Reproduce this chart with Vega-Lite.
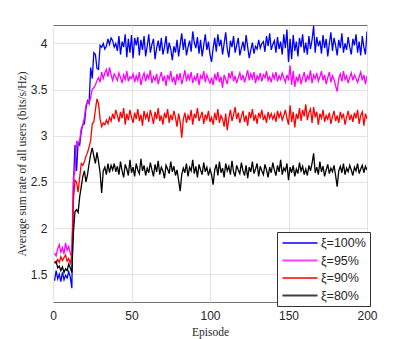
{
"$schema":"https://vega.github.io/schema/vega-lite/v6.json",
"width":314,"height":277,
"autosize":{"type":"none"},
"padding":{"left":53,"top":25,"right":40,"bottom":37},
"background":"white",
"data":{"values":[
{"e":1,"s":100,"v":1.43},{"e":2,"s":100,"v":1.54},{"e":3,"s":100,"v":1.45},{"e":4,"s":100,"v":1.50},{"e":5,"s":100,"v":1.42},{"e":6,"s":100,"v":1.52},{"e":7,"s":100,"v":1.44},{"e":8,"s":100,"v":1.49},{"e":9,"s":100,"v":1.46},{"e":10,"s":100,"v":1.53},
{"e":11,"s":100,"v":1.47},{"e":12,"s":100,"v":1.35},{"e":13,"s":100,"v":2.45},{"e":14,"s":100,"v":2.90},{"e":15,"s":100,"v":2.62},{"e":16,"s":100,"v":2.93},{"e":17,"s":100,"v":2.90},{"e":18,"s":100,"v":3.05},{"e":19,"s":100,"v":3.12},{"e":20,"s":100,"v":3.13},
{"e":21,"s":100,"v":3.30},{"e":22,"s":100,"v":3.38},{"e":23,"s":100,"v":3.35},{"e":24,"s":100,"v":3.74},{"e":25,"s":100,"v":3.62},{"e":26,"s":100,"v":3.90},{"e":27,"s":100,"v":3.88},{"e":28,"s":100,"v":3.73},{"e":29,"s":100,"v":3.72},{"e":30,"s":100,"v":3.98},
{"e":31,"s":100,"v":3.96},{"e":32,"s":100,"v":4.00},{"e":33,"s":100,"v":3.94},{"e":34,"s":100,"v":3.97},{"e":35,"s":100,"v":4.05},{"e":36,"s":100,"v":3.99},{"e":37,"s":100,"v":4.06},{"e":38,"s":100,"v":4.03},{"e":39,"s":100,"v":3.96},{"e":40,"s":100,"v":4.00},
{"e":41,"s":100,"v":3.92},{"e":42,"s":100,"v":4.08},{"e":43,"s":100,"v":3.88},{"e":44,"s":100,"v":4.02},{"e":45,"s":100,"v":3.96},{"e":46,"s":100,"v":4.10},{"e":47,"s":100,"v":3.85},{"e":48,"s":100,"v":4.05},{"e":49,"s":100,"v":3.90},{"e":50,"s":100,"v":4.09},
{"e":51,"s":100,"v":3.84},{"e":52,"s":100,"v":4.06},{"e":53,"s":100,"v":3.98},{"e":54,"s":100,"v":4.07},{"e":55,"s":100,"v":3.87},{"e":56,"s":100,"v":4.04},{"e":57,"s":100,"v":3.93},{"e":58,"s":100,"v":4.08},{"e":59,"s":100,"v":3.86},{"e":60,"s":100,"v":3.97},
{"e":61,"s":100,"v":4.10},{"e":62,"s":100,"v":3.90},{"e":63,"s":100,"v":3.99},{"e":64,"s":100,"v":4.05},{"e":65,"s":100,"v":3.83},{"e":66,"s":100,"v":3.95},{"e":67,"s":100,"v":4.03},{"e":68,"s":100,"v":3.92},{"e":69,"s":100,"v":4.06},{"e":70,"s":100,"v":3.88},
{"e":71,"s":100,"v":3.96},{"e":72,"s":100,"v":4.08},{"e":73,"s":100,"v":3.89},{"e":74,"s":100,"v":4.01},{"e":75,"s":100,"v":3.94},{"e":76,"s":100,"v":3.82},{"e":77,"s":100,"v":3.97},{"e":78,"s":100,"v":3.90},{"e":79,"s":100,"v":4.04},{"e":80,"s":100,"v":3.86},
{"e":81,"s":100,"v":3.99},{"e":82,"s":100,"v":4.11},{"e":83,"s":100,"v":3.93},{"e":84,"s":100,"v":4.05},{"e":85,"s":100,"v":3.87},{"e":86,"s":100,"v":3.96},{"e":87,"s":100,"v":4.03},{"e":88,"s":100,"v":3.91},{"e":89,"s":100,"v":4.13},{"e":90,"s":100,"v":4.01},
{"e":91,"s":100,"v":3.95},{"e":92,"s":100,"v":4.07},{"e":93,"s":100,"v":3.89},{"e":94,"s":100,"v":4.04},{"e":95,"s":100,"v":3.86},{"e":96,"s":100,"v":3.98},{"e":97,"s":100,"v":4.10},{"e":98,"s":100,"v":3.93},{"e":99,"s":100,"v":4.02},{"e":100,"s":100,"v":3.88},
{"e":101,"s":100,"v":3.80},{"e":102,"s":100,"v":3.95},{"e":103,"s":100,"v":4.06},{"e":104,"s":100,"v":3.91},{"e":105,"s":100,"v":4.10},{"e":106,"s":100,"v":3.97},{"e":107,"s":100,"v":4.04},{"e":108,"s":100,"v":3.88},{"e":109,"s":100,"v":4.00},{"e":110,"s":100,"v":4.12},
{"e":111,"s":100,"v":3.94},{"e":112,"s":100,"v":3.85},{"e":113,"s":100,"v":4.03},{"e":114,"s":100,"v":3.96},{"e":115,"s":100,"v":4.08},{"e":116,"s":100,"v":3.90},{"e":117,"s":100,"v":3.98},{"e":118,"s":100,"v":4.06},{"e":119,"s":100,"v":3.87},{"e":120,"s":100,"v":3.95},
{"e":121,"s":100,"v":4.02},{"e":122,"s":100,"v":3.92},{"e":123,"s":100,"v":4.09},{"e":124,"s":100,"v":3.96},{"e":125,"s":100,"v":3.84},{"e":126,"s":100,"v":3.93},{"e":127,"s":100,"v":4.01},{"e":128,"s":100,"v":3.89},{"e":129,"s":100,"v":3.97},{"e":130,"s":100,"v":3.94},
{"e":131,"s":100,"v":4.04},{"e":132,"s":100,"v":3.95},{"e":133,"s":100,"v":4.00},{"e":134,"s":100,"v":4.02},{"e":135,"s":100,"v":3.91},{"e":136,"s":100,"v":4.08},{"e":137,"s":100,"v":3.97},{"e":138,"s":100,"v":4.11},{"e":139,"s":100,"v":3.93},{"e":140,"s":100,"v":3.99},
{"e":141,"s":100,"v":4.03},{"e":142,"s":100,"v":3.90},{"e":143,"s":100,"v":4.07},{"e":144,"s":100,"v":3.94},{"e":145,"s":100,"v":4.02},{"e":146,"s":100,"v":3.88},{"e":147,"s":100,"v":4.10},{"e":148,"s":100,"v":3.95},{"e":149,"s":100,"v":4.15},{"e":150,"s":100,"v":3.80},
{"e":151,"s":100,"v":4.05},{"e":152,"s":100,"v":3.83},{"e":153,"s":100,"v":4.09},{"e":154,"s":100,"v":3.92},{"e":155,"s":100,"v":4.02},{"e":156,"s":100,"v":3.86},{"e":157,"s":100,"v":4.06},{"e":158,"s":100,"v":3.96},{"e":159,"s":100,"v":4.10},{"e":160,"s":100,"v":3.90},
{"e":161,"s":100,"v":4.01},{"e":162,"s":100,"v":3.88},{"e":163,"s":100,"v":4.08},{"e":164,"s":100,"v":3.94},{"e":165,"s":100,"v":4.04},{"e":166,"s":100,"v":4.19},{"e":167,"s":100,"v":3.90},{"e":168,"s":100,"v":4.07},{"e":169,"s":100,"v":3.97},{"e":170,"s":100,"v":4.03},
{"e":171,"s":100,"v":3.89},{"e":172,"s":100,"v":4.09},{"e":173,"s":100,"v":3.95},{"e":174,"s":100,"v":4.05},{"e":175,"s":100,"v":3.86},{"e":176,"s":100,"v":4.00},{"e":177,"s":100,"v":4.12},{"e":178,"s":100,"v":3.92},{"e":179,"s":100,"v":4.06},{"e":180,"s":100,"v":3.98},
{"e":181,"s":100,"v":3.87},{"e":182,"s":100,"v":4.04},{"e":183,"s":100,"v":3.95},{"e":184,"s":100,"v":4.11},{"e":185,"s":100,"v":3.90},{"e":186,"s":100,"v":4.00},{"e":187,"s":100,"v":3.93},{"e":188,"s":100,"v":4.07},{"e":189,"s":100,"v":3.96},{"e":190,"s":100,"v":3.88},
{"e":191,"s":100,"v":4.05},{"e":192,"s":100,"v":3.98},{"e":193,"s":100,"v":4.10},{"e":194,"s":100,"v":3.90},{"e":195,"s":100,"v":4.02},{"e":196,"s":100,"v":3.87},{"e":197,"s":100,"v":4.08},{"e":198,"s":100,"v":3.96},{"e":199,"s":100,"v":3.88},{"e":200,"s":100,"v":4.13},

{"e":1,"s":95,"v":1.73},{"e":2,"s":95,"v":1.70},{"e":3,"s":95,"v":1.78},{"e":4,"s":95,"v":1.82},{"e":5,"s":95,"v":1.74},{"e":6,"s":95,"v":1.79},{"e":7,"s":95,"v":1.72},{"e":8,"s":95,"v":1.84},{"e":9,"s":95,"v":1.76},{"e":10,"s":95,"v":1.80},
{"e":11,"s":95,"v":1.73},{"e":12,"s":95,"v":1.68},{"e":13,"s":95,"v":2.55},{"e":14,"s":95,"v":2.62},{"e":15,"s":95,"v":2.93},{"e":16,"s":95,"v":2.90},{"e":17,"s":95,"v":2.95},{"e":18,"s":95,"v":3.08},{"e":19,"s":95,"v":3.12},{"e":20,"s":95,"v":3.20},
{"e":21,"s":95,"v":3.33},{"e":22,"s":95,"v":3.37},{"e":23,"s":95,"v":3.35},{"e":24,"s":95,"v":3.42},{"e":25,"s":95,"v":3.50},{"e":26,"s":95,"v":3.52},{"e":27,"s":95,"v":3.55},{"e":28,"s":95,"v":3.60},{"e":29,"s":95,"v":3.63},{"e":30,"s":95,"v":3.58},
{"e":31,"s":95,"v":3.69},{"e":32,"s":95,"v":3.62},{"e":33,"s":95,"v":3.68},{"e":34,"s":95,"v":3.72},{"e":35,"s":95,"v":3.64},{"e":36,"s":95,"v":3.74},{"e":37,"s":95,"v":3.66},{"e":38,"s":95,"v":3.60},{"e":39,"s":95,"v":3.67},{"e":40,"s":95,"v":3.64},
{"e":41,"s":95,"v":3.60},{"e":42,"s":95,"v":3.68},{"e":43,"s":95,"v":3.63},{"e":44,"s":95,"v":3.57},{"e":45,"s":95,"v":3.66},{"e":46,"s":95,"v":3.61},{"e":47,"s":95,"v":3.70},{"e":48,"s":95,"v":3.59},{"e":49,"s":95,"v":3.64},{"e":50,"s":95,"v":3.62},
{"e":51,"s":95,"v":3.67},{"e":52,"s":95,"v":3.58},{"e":53,"s":95,"v":3.65},{"e":54,"s":95,"v":3.60},{"e":55,"s":95,"v":3.69},{"e":56,"s":95,"v":3.55},{"e":57,"s":95,"v":3.63},{"e":58,"s":95,"v":3.68},{"e":59,"s":95,"v":3.59},{"e":60,"s":95,"v":3.66},
{"e":61,"s":95,"v":3.62},{"e":62,"s":95,"v":3.71},{"e":63,"s":95,"v":3.57},{"e":64,"s":95,"v":3.64},{"e":65,"s":95,"v":3.60},{"e":66,"s":95,"v":3.67},{"e":67,"s":95,"v":3.56},{"e":68,"s":95,"v":3.63},{"e":69,"s":95,"v":3.69},{"e":70,"s":95,"v":3.59},
{"e":71,"s":95,"v":3.65},{"e":72,"s":95,"v":3.54},{"e":73,"s":95,"v":3.66},{"e":74,"s":95,"v":3.61},{"e":75,"s":95,"v":3.70},{"e":76,"s":95,"v":3.58},{"e":77,"s":95,"v":3.64},{"e":78,"s":95,"v":3.55},{"e":79,"s":95,"v":3.67},{"e":80,"s":95,"v":3.60},
{"e":81,"s":95,"v":3.68},{"e":82,"s":95,"v":3.56},{"e":83,"s":95,"v":3.63},{"e":84,"s":95,"v":3.71},{"e":85,"s":95,"v":3.59},{"e":86,"s":95,"v":3.66},{"e":87,"s":95,"v":3.61},{"e":88,"s":95,"v":3.69},{"e":89,"s":95,"v":3.57},{"e":90,"s":95,"v":3.64},
{"e":91,"s":95,"v":3.60},{"e":92,"s":95,"v":3.68},{"e":93,"s":95,"v":3.55},{"e":94,"s":95,"v":3.65},{"e":95,"s":95,"v":3.62},{"e":96,"s":95,"v":3.70},{"e":97,"s":95,"v":3.58},{"e":98,"s":95,"v":3.66},{"e":99,"s":95,"v":3.61},{"e":100,"s":95,"v":3.57},
{"e":101,"s":95,"v":3.63},{"e":102,"s":95,"v":3.55},{"e":103,"s":95,"v":3.67},{"e":104,"s":95,"v":3.60},{"e":105,"s":95,"v":3.69},{"e":106,"s":95,"v":3.58},{"e":107,"s":95,"v":3.64},{"e":108,"s":95,"v":3.52},{"e":109,"s":95,"v":3.66},{"e":110,"s":95,"v":3.61},
{"e":111,"s":95,"v":3.56},{"e":112,"s":95,"v":3.68},{"e":113,"s":95,"v":3.62},{"e":114,"s":95,"v":3.70},{"e":115,"s":95,"v":3.59},{"e":116,"s":95,"v":3.65},{"e":117,"s":95,"v":3.57},{"e":118,"s":95,"v":3.63},{"e":119,"s":95,"v":3.68},{"e":120,"s":95,"v":3.60},
{"e":121,"s":95,"v":3.66},{"e":122,"s":95,"v":3.58},{"e":123,"s":95,"v":3.64},{"e":124,"s":95,"v":3.71},{"e":125,"s":95,"v":3.60},{"e":126,"s":95,"v":3.67},{"e":127,"s":95,"v":3.62},{"e":128,"s":95,"v":3.69},{"e":129,"s":95,"v":3.57},{"e":130,"s":95,"v":3.65},
{"e":131,"s":95,"v":3.61},{"e":132,"s":95,"v":3.68},{"e":133,"s":95,"v":3.59},{"e":134,"s":95,"v":3.66},{"e":135,"s":95,"v":3.63},{"e":136,"s":95,"v":3.70},{"e":137,"s":95,"v":3.60},{"e":138,"s":95,"v":3.64},{"e":139,"s":95,"v":3.58},{"e":140,"s":95,"v":3.67},
{"e":141,"s":95,"v":3.62},{"e":142,"s":95,"v":3.69},{"e":143,"s":95,"v":3.59},{"e":144,"s":95,"v":3.65},{"e":145,"s":95,"v":3.61},{"e":146,"s":95,"v":3.68},{"e":147,"s":95,"v":3.63},{"e":148,"s":95,"v":3.58},{"e":149,"s":95,"v":3.66},{"e":150,"s":95,"v":3.60},
{"e":151,"s":95,"v":3.76},{"e":152,"s":95,"v":3.55},{"e":153,"s":95,"v":3.70},{"e":154,"s":95,"v":3.53},{"e":155,"s":95,"v":3.64},{"e":156,"s":95,"v":3.59},{"e":157,"s":95,"v":3.67},{"e":158,"s":95,"v":3.56},{"e":159,"s":95,"v":3.63},{"e":160,"s":95,"v":3.69},
{"e":161,"s":95,"v":3.58},{"e":162,"s":95,"v":3.65},{"e":163,"s":95,"v":3.61},{"e":164,"s":95,"v":3.71},{"e":165,"s":95,"v":3.57},{"e":166,"s":95,"v":3.66},{"e":167,"s":95,"v":3.62},{"e":168,"s":95,"v":3.68},{"e":169,"s":95,"v":3.59},{"e":170,"s":95,"v":3.64},
{"e":171,"s":95,"v":3.70},{"e":172,"s":95,"v":3.60},{"e":173,"s":95,"v":3.66},{"e":174,"s":95,"v":3.56},{"e":175,"s":95,"v":3.63},{"e":176,"s":95,"v":3.69},{"e":177,"s":95,"v":3.58},{"e":178,"s":95,"v":3.65},{"e":179,"s":95,"v":3.61},{"e":180,"s":95,"v":3.54},
{"e":181,"s":95,"v":3.48},{"e":182,"s":95,"v":3.62},{"e":183,"s":95,"v":3.67},{"e":184,"s":95,"v":3.59},{"e":185,"s":95,"v":3.70},{"e":186,"s":95,"v":3.61},{"e":187,"s":95,"v":3.65},{"e":188,"s":95,"v":3.57},{"e":189,"s":95,"v":3.63},{"e":190,"s":95,"v":3.68},
{"e":191,"s":95,"v":3.60},{"e":192,"s":95,"v":3.66},{"e":193,"s":95,"v":3.62},{"e":194,"s":95,"v":3.58},{"e":195,"s":95,"v":3.64},{"e":196,"s":95,"v":3.69},{"e":197,"s":95,"v":3.60},{"e":198,"s":95,"v":3.66},{"e":199,"s":95,"v":3.56},{"e":200,"s":95,"v":3.65},

{"e":1,"s":90,"v":1.64},{"e":2,"s":90,"v":1.62},{"e":3,"s":90,"v":1.66},{"e":4,"s":90,"v":1.63},{"e":5,"s":90,"v":1.69},{"e":6,"s":90,"v":1.65},{"e":7,"s":90,"v":1.68},{"e":8,"s":90,"v":1.71},{"e":9,"s":90,"v":1.64},{"e":10,"s":90,"v":1.67},
{"e":11,"s":90,"v":1.62},{"e":12,"s":90,"v":1.70},{"e":13,"s":90,"v":2.30},{"e":14,"s":90,"v":2.52},{"e":15,"s":90,"v":2.50},{"e":16,"s":90,"v":2.39},{"e":17,"s":90,"v":2.55},{"e":18,"s":90,"v":2.70},{"e":19,"s":90,"v":2.68},{"e":20,"s":90,"v":2.72},
{"e":21,"s":90,"v":2.78},{"e":22,"s":90,"v":2.82},{"e":23,"s":90,"v":2.88},{"e":24,"s":90,"v":2.95},{"e":25,"s":90,"v":3.13},{"e":26,"s":90,"v":3.15},{"e":27,"s":90,"v":3.28},{"e":28,"s":90,"v":3.40},{"e":29,"s":90,"v":3.35},{"e":30,"s":90,"v":3.18},
{"e":31,"s":90,"v":3.10},{"e":32,"s":90,"v":3.14},{"e":33,"s":90,"v":3.12},{"e":34,"s":90,"v":3.17},{"e":35,"s":90,"v":3.13},{"e":36,"s":90,"v":3.20},{"e":37,"s":90,"v":3.16},{"e":38,"s":90,"v":3.24},{"e":39,"s":90,"v":3.18},{"e":40,"s":90,"v":3.28},
{"e":41,"s":90,"v":3.22},{"e":42,"s":90,"v":3.15},{"e":43,"s":90,"v":3.26},{"e":44,"s":90,"v":3.19},{"e":45,"s":90,"v":3.30},{"e":46,"s":90,"v":3.12},{"e":47,"s":90,"v":3.24},{"e":48,"s":90,"v":3.17},{"e":49,"s":90,"v":3.28},{"e":50,"s":90,"v":3.20},
{"e":51,"s":90,"v":3.14},{"e":52,"s":90,"v":3.25},{"e":53,"s":90,"v":3.18},{"e":54,"s":90,"v":3.29},{"e":55,"s":90,"v":3.16},{"e":56,"s":90,"v":3.23},{"e":57,"s":90,"v":3.11},{"e":58,"s":90,"v":3.27},{"e":59,"s":90,"v":3.19},{"e":60,"s":90,"v":3.24},
{"e":61,"s":90,"v":3.15},{"e":62,"s":90,"v":3.28},{"e":63,"s":90,"v":3.21},{"e":64,"s":90,"v":3.13},{"e":65,"s":90,"v":3.26},{"e":66,"s":90,"v":3.18},{"e":67,"s":90,"v":3.30},{"e":68,"s":90,"v":3.16},{"e":69,"s":90,"v":3.22},{"e":70,"s":90,"v":3.12},
{"e":71,"s":90,"v":3.25},{"e":72,"s":90,"v":3.19},{"e":73,"s":90,"v":3.29},{"e":74,"s":90,"v":3.14},{"e":75,"s":90,"v":3.23},{"e":76,"s":90,"v":3.17},{"e":77,"s":90,"v":3.27},{"e":78,"s":90,"v":3.20},{"e":79,"s":90,"v":3.10},{"e":80,"s":90,"v":3.24},
{"e":81,"s":90,"v":3.15},{"e":82,"s":90,"v":2.98},{"e":83,"s":90,"v":3.18},{"e":84,"s":90,"v":3.25},{"e":85,"s":90,"v":3.14},{"e":86,"s":90,"v":3.22},{"e":87,"s":90,"v":3.17},{"e":88,"s":90,"v":3.28},{"e":89,"s":90,"v":3.12},{"e":90,"s":90,"v":3.24},
{"e":91,"s":90,"v":3.19},{"e":92,"s":90,"v":3.30},{"e":93,"s":90,"v":3.16},{"e":94,"s":90,"v":3.21},{"e":95,"s":90,"v":3.26},{"e":96,"s":90,"v":3.13},{"e":97,"s":90,"v":3.23},{"e":98,"s":90,"v":3.18},{"e":99,"s":90,"v":3.27},{"e":100,"s":90,"v":3.15},
{"e":101,"s":90,"v":3.20},{"e":102,"s":90,"v":3.12},{"e":103,"s":90,"v":3.25},{"e":104,"s":90,"v":3.17},{"e":105,"s":90,"v":3.29},{"e":106,"s":90,"v":3.14},{"e":107,"s":90,"v":3.22},{"e":108,"s":90,"v":3.18},{"e":109,"s":90,"v":3.10},{"e":110,"s":90,"v":3.24},
{"e":111,"s":90,"v":3.06},{"e":112,"s":90,"v":3.19},{"e":113,"s":90,"v":3.28},{"e":114,"s":90,"v":3.16},{"e":115,"s":90,"v":3.23},{"e":116,"s":90,"v":3.31},{"e":117,"s":90,"v":3.18},{"e":118,"s":90,"v":3.25},{"e":119,"s":90,"v":3.14},{"e":120,"s":90,"v":3.21},
{"e":121,"s":90,"v":3.27},{"e":122,"s":90,"v":3.15},{"e":123,"s":90,"v":3.22},{"e":124,"s":90,"v":3.11},{"e":125,"s":90,"v":3.26},{"e":126,"s":90,"v":3.19},{"e":127,"s":90,"v":3.29},{"e":128,"s":90,"v":3.16},{"e":129,"s":90,"v":3.23},{"e":130,"s":90,"v":3.13},
{"e":131,"s":90,"v":3.25},{"e":132,"s":90,"v":3.20},{"e":133,"s":90,"v":3.28},{"e":134,"s":90,"v":3.17},{"e":135,"s":90,"v":3.22},{"e":136,"s":90,"v":3.14},{"e":137,"s":90,"v":3.26},{"e":138,"s":90,"v":3.19},{"e":139,"s":90,"v":3.24},{"e":140,"s":90,"v":3.18},
{"e":141,"s":90,"v":3.23},{"e":142,"s":90,"v":3.15},{"e":143,"s":90,"v":3.27},{"e":144,"s":90,"v":3.20},{"e":145,"s":90,"v":3.25},{"e":146,"s":90,"v":3.17},{"e":147,"s":90,"v":3.22},{"e":148,"s":90,"v":3.28},{"e":149,"s":90,"v":3.19},{"e":150,"s":90,"v":3.12},
{"e":151,"s":90,"v":3.33},{"e":152,"s":90,"v":3.15},{"e":153,"s":90,"v":3.26},{"e":154,"s":90,"v":3.09},{"e":155,"s":90,"v":3.24},{"e":156,"s":90,"v":3.18},{"e":157,"s":90,"v":3.30},{"e":158,"s":90,"v":3.16},{"e":159,"s":90,"v":3.28},{"e":160,"s":90,"v":3.21},
{"e":161,"s":90,"v":3.34},{"e":162,"s":90,"v":3.17},{"e":163,"s":90,"v":3.25},{"e":164,"s":90,"v":3.29},{"e":165,"s":90,"v":3.14},{"e":166,"s":90,"v":3.31},{"e":167,"s":90,"v":3.20},{"e":168,"s":90,"v":3.26},{"e":169,"s":90,"v":3.12},{"e":170,"s":90,"v":3.24},
{"e":171,"s":90,"v":3.19},{"e":172,"s":90,"v":3.28},{"e":173,"s":90,"v":3.15},{"e":174,"s":90,"v":3.22},{"e":175,"s":90,"v":3.18},{"e":176,"s":90,"v":3.25},{"e":177,"s":90,"v":3.13},{"e":178,"s":90,"v":3.21},{"e":179,"s":90,"v":3.27},{"e":180,"s":90,"v":3.16},
{"e":181,"s":90,"v":3.22},{"e":182,"s":90,"v":3.14},{"e":183,"s":90,"v":3.26},{"e":184,"s":90,"v":3.19},{"e":185,"s":90,"v":3.24},{"e":186,"s":90,"v":3.12},{"e":187,"s":90,"v":3.20},{"e":188,"s":90,"v":3.27},{"e":189,"s":90,"v":3.17},{"e":190,"s":90,"v":3.23},
{"e":191,"s":90,"v":3.15},{"e":192,"s":90,"v":3.25},{"e":193,"s":90,"v":3.19},{"e":194,"s":90,"v":3.28},{"e":195,"s":90,"v":3.13},{"e":196,"s":90,"v":3.22},{"e":197,"s":90,"v":3.26},{"e":198,"s":90,"v":3.11},{"e":199,"s":90,"v":3.24},{"e":200,"s":90,"v":3.18},

{"e":1,"s":80,"v":1.62},{"e":2,"s":80,"v":1.64},{"e":3,"s":80,"v":1.57},{"e":4,"s":80,"v":1.59},{"e":5,"s":80,"v":1.54},{"e":6,"s":80,"v":1.58},{"e":7,"s":80,"v":1.52},{"e":8,"s":80,"v":1.56},{"e":9,"s":80,"v":1.54},{"e":10,"s":80,"v":1.61},
{"e":11,"s":80,"v":1.57},{"e":12,"s":80,"v":1.52},{"e":13,"s":80,"v":1.95},{"e":14,"s":80,"v":2.18},{"e":15,"s":80,"v":2.20},{"e":16,"s":80,"v":2.17},{"e":17,"s":80,"v":2.34},{"e":18,"s":80,"v":2.45},{"e":19,"s":80,"v":2.56},{"e":20,"s":80,"v":2.62},
{"e":21,"s":80,"v":2.50},{"e":22,"s":80,"v":2.58},{"e":23,"s":80,"v":2.70},{"e":24,"s":80,"v":2.80},{"e":25,"s":80,"v":2.87},{"e":26,"s":80,"v":2.78},{"e":27,"s":80,"v":2.70},{"e":28,"s":80,"v":2.82},{"e":29,"s":80,"v":2.72},{"e":30,"s":80,"v":2.60},
{"e":31,"s":80,"v":2.38},{"e":32,"s":80,"v":2.62},{"e":33,"s":80,"v":2.66},{"e":34,"s":80,"v":2.58},{"e":35,"s":80,"v":2.70},{"e":36,"s":80,"v":2.60},{"e":37,"s":80,"v":2.68},{"e":38,"s":80,"v":2.63},{"e":39,"s":80,"v":2.70},{"e":40,"s":80,"v":2.61},
{"e":41,"s":80,"v":2.67},{"e":42,"s":80,"v":2.58},{"e":43,"s":80,"v":2.72},{"e":44,"s":80,"v":2.62},{"e":45,"s":80,"v":2.55},{"e":46,"s":80,"v":2.69},{"e":47,"s":80,"v":2.64},{"e":48,"s":80,"v":2.57},{"e":49,"s":80,"v":2.74},{"e":50,"s":80,"v":2.60},
{"e":51,"s":80,"v":2.66},{"e":52,"s":80,"v":2.56},{"e":53,"s":80,"v":2.70},{"e":54,"s":80,"v":2.63},{"e":55,"s":80,"v":2.59},{"e":56,"s":80,"v":2.75},{"e":57,"s":80,"v":2.62},{"e":58,"s":80,"v":2.68},{"e":59,"s":80,"v":2.57},{"e":60,"s":80,"v":2.65},
{"e":61,"s":80,"v":2.60},{"e":62,"s":80,"v":2.71},{"e":63,"s":80,"v":2.63},{"e":64,"s":80,"v":2.56},{"e":65,"s":80,"v":2.69},{"e":66,"s":80,"v":2.61},{"e":67,"s":80,"v":2.73},{"e":68,"s":80,"v":2.58},{"e":69,"s":80,"v":2.66},{"e":70,"s":80,"v":2.62},
{"e":71,"s":80,"v":2.54},{"e":72,"s":80,"v":2.68},{"e":73,"s":80,"v":2.64},{"e":74,"s":80,"v":2.59},{"e":75,"s":80,"v":2.72},{"e":76,"s":80,"v":2.61},{"e":77,"s":80,"v":2.67},{"e":78,"s":80,"v":2.57},{"e":79,"s":80,"v":2.63},{"e":80,"s":80,"v":2.52},
{"e":81,"s":80,"v":2.40},{"e":82,"s":80,"v":2.58},{"e":83,"s":80,"v":2.65},{"e":84,"s":80,"v":2.60},{"e":85,"s":80,"v":2.70},{"e":86,"s":80,"v":2.56},{"e":87,"s":80,"v":2.66},{"e":88,"s":80,"v":2.62},{"e":89,"s":80,"v":2.74},{"e":90,"s":80,"v":2.59},
{"e":91,"s":80,"v":2.67},{"e":92,"s":80,"v":2.55},{"e":93,"s":80,"v":2.69},{"e":94,"s":80,"v":2.63},{"e":95,"s":80,"v":2.58},{"e":96,"s":80,"v":2.71},{"e":97,"s":80,"v":2.61},{"e":98,"s":80,"v":2.66},{"e":99,"s":80,"v":2.57},{"e":100,"s":80,"v":2.64},
{"e":101,"s":80,"v":2.58},{"e":102,"s":80,"v":2.47},{"e":103,"s":80,"v":2.63},{"e":104,"s":80,"v":2.69},{"e":105,"s":80,"v":2.57},{"e":106,"s":80,"v":2.72},{"e":107,"s":80,"v":2.60},{"e":108,"s":80,"v":2.65},{"e":109,"s":80,"v":2.55},{"e":110,"s":80,"v":2.70},
{"e":111,"s":80,"v":2.62},{"e":112,"s":80,"v":2.67},{"e":113,"s":80,"v":2.58},{"e":114,"s":80,"v":2.73},{"e":115,"s":80,"v":2.61},{"e":116,"s":80,"v":2.56},{"e":117,"s":80,"v":2.68},{"e":118,"s":80,"v":2.63},{"e":119,"s":80,"v":2.59},{"e":120,"s":80,"v":2.71},
{"e":121,"s":80,"v":2.62},{"e":122,"s":80,"v":2.57},{"e":123,"s":80,"v":2.68},{"e":124,"s":80,"v":2.54},{"e":125,"s":80,"v":2.66},{"e":126,"s":80,"v":2.61},{"e":127,"s":80,"v":2.72},{"e":128,"s":80,"v":2.59},{"e":129,"s":80,"v":2.64},{"e":130,"s":80,"v":2.70},
{"e":131,"s":80,"v":2.56},{"e":132,"s":80,"v":2.67},{"e":133,"s":80,"v":2.62},{"e":134,"s":80,"v":2.58},{"e":135,"s":80,"v":2.69},{"e":136,"s":80,"v":2.63},{"e":137,"s":80,"v":2.55},{"e":138,"s":80,"v":2.66},{"e":139,"s":80,"v":2.60},{"e":140,"s":80,"v":2.71},
{"e":141,"s":80,"v":2.63},{"e":142,"s":80,"v":2.57},{"e":143,"s":80,"v":2.68},{"e":144,"s":80,"v":2.61},{"e":145,"s":80,"v":2.74},{"e":146,"s":80,"v":2.58},{"e":147,"s":80,"v":2.65},{"e":148,"s":80,"v":2.62},{"e":149,"s":80,"v":2.70},{"e":150,"s":80,"v":2.52},
{"e":151,"s":80,"v":2.66},{"e":152,"s":80,"v":2.60},{"e":153,"s":80,"v":2.68},{"e":154,"s":80,"v":2.56},{"e":155,"s":80,"v":2.64},{"e":156,"s":80,"v":2.59},{"e":157,"s":80,"v":2.71},{"e":158,"s":80,"v":2.62},{"e":159,"s":80,"v":2.67},{"e":160,"s":80,"v":2.58},
{"e":161,"s":80,"v":2.64},{"e":162,"s":80,"v":2.57},{"e":163,"s":80,"v":2.68},{"e":164,"s":80,"v":2.62},{"e":165,"s":80,"v":2.70},{"e":166,"s":80,"v":2.81},{"e":167,"s":80,"v":2.60},{"e":168,"s":80,"v":2.66},{"e":169,"s":80,"v":2.58},{"e":170,"s":80,"v":2.72},
{"e":171,"s":80,"v":2.61},{"e":172,"s":80,"v":2.67},{"e":173,"s":80,"v":2.56},{"e":174,"s":80,"v":2.63},{"e":175,"s":80,"v":2.69},{"e":176,"s":80,"v":2.59},{"e":177,"s":80,"v":2.65},{"e":178,"s":80,"v":2.61},{"e":179,"s":80,"v":2.68},{"e":180,"s":80,"v":2.57},
{"e":181,"s":80,"v":2.45},{"e":182,"s":80,"v":2.62},{"e":183,"s":80,"v":2.67},{"e":184,"s":80,"v":2.60},{"e":185,"s":80,"v":2.70},{"e":186,"s":80,"v":2.58},{"e":187,"s":80,"v":2.65},{"e":188,"s":80,"v":2.61},{"e":189,"s":80,"v":2.68},{"e":190,"s":80,"v":2.63},
{"e":191,"s":80,"v":2.57},{"e":192,"s":80,"v":2.66},{"e":193,"s":80,"v":2.62},{"e":194,"s":80,"v":2.70},{"e":195,"s":80,"v":2.59},{"e":196,"s":80,"v":2.64},{"e":197,"s":80,"v":2.68},{"e":198,"s":80,"v":2.60},{"e":199,"s":80,"v":2.67},{"e":200,"s":80,"v":2.63}
]},
"mark":{"type":"line","strokeWidth":1.3,"clip":true},
"encoding":{
"x":{"field":"e","type":"quantitative","scale":{"domain":[0,200],"nice":false},
"axis":{"values":[0,50,100,150,200],"title":"Episode","grid":true,"domain":false,"ticks":false,"labelFlush":false,"labelPadding":8,"titlePadding":5}},
"y":{"field":"v","type":"quantitative","scale":{"domain":[1.2,4.2],"nice":false,"zero":false},
"axis":{"values":[1.5,2,2.5,3,3.5,4],"format":"~g","title":"Average sum rate of all users (bits/s/Hz)","grid":true,"domain":false,"ticks":false,"labelFlush":false,"labelPadding":6,"titlePadding":3}},
"color":{"field":"s","type":"nominal","scale":{"domain":[100,95,90,80],"range":["#0000ff","#ff00ff","#ff0000","#000000"]},
"legend":{"title":null,"labelExpr":"'ξ=' + datum.label + '%'"}}
},
"config":{
"view":{"stroke":"#707070","strokeWidth":1},
"axis":{"gridColor":"#e3e3e3","gridWidth":1,"labelFont":"Liberation Sans","labelFontSize":12,"labelColor":"#262626","titleFont":"Liberation Serif","titleFontSize":11.5,"titleFontWeight":"normal","titleColor":"#262626"},
"legend":{"orient":"none","legendX":224,"legendY":207,"strokeColor":"#333333","fillColor":"white","padding":4,"symbolType":"M-2.92,0H2.92","symbolSize":144,"symbolStrokeWidth":2,"symbolOpacity":0.75,"symbolOffset":12,"labelFont":"Liberation Sans","labelFontSize":12.5,"labelColor":"#262626","rowPadding":3.5,"labelOffset":14,"cornerRadius":0}
}
}
